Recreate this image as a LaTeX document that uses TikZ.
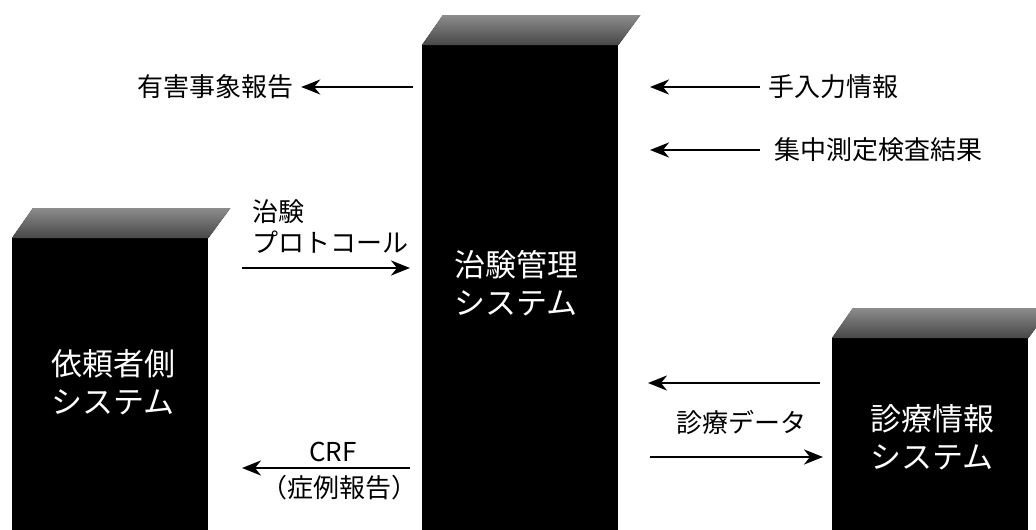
\documentclass[tikz,border=0pt]{standalone}
\usepackage{fontspec}
\setmainfont{Noto Sans CJK JP}
\usetikzlibrary{arrows.meta}
\begin{document}
\begin{tikzpicture}[x=1pt,y=-1pt,
  col/.style={fill=black,draw=none,inner sep=0pt,anchor=north west,minimum width=196pt},
  topface/.style={top color=black!45,bottom color=black!72,draw=none},
  lbl/.style={font=\fontsize{26}{31}\selectfont,inner sep=0pt},
  big/.style={font=\fontsize{31}{38}\selectfont,text=white,align=center,inner sep=0pt},
  arr/.style={line width=2.3pt,-{Stealth[length=19pt,width=15pt,inset=6pt]}}
]
\useasboundingbox (0,0) rectangle (1036,530);
\clip (0,0) rectangle (1036,530);

% columns
\node[col,minimum height=292pt] (req) at (12,238) {};
\node[col,minimum height=485pt] (ctms) at (422,45) {};
\node[col,minimum height=192pt] (his) at (832,338) {};
\foreach \c in {req,ctms,his}{
  \fill[topface] (\c.north west) -- (\c.north east)
    -- ([shift={(22,-30)}]\c.north east) -- ([shift={(21,-30)}]\c.north west) -- cycle;
}

% column texts
\node[big] (reqt) at (113,382) {依頼者側\\システム};
\node[big] (ctmst) at (516,283) {治験管理\\システム};
\node[big] (hist) at (932,437) {診療情報\\システム};

% labels
\node[lbl] (ae) at (215,87) {有害事象報告};
\node[lbl] (man) at (833,87) {手入力情報};
\node[lbl] (lab) at (878,150) {集中測定検査結果};
\node[lbl,align=left,anchor=west] (prot) at (252,227) {治験\\プロトコール};
\node[lbl] (crf) at (333,452) {CRF};
\node[lbl] (crf2) at (339,488) {（症例報告）};
\node[lbl] (med) at (741,422) {診療データ};

% arrow ends
\coordinate (aeS) at (413,87);
\coordinate (manT) at (650,87);
\coordinate (labT) at (650,150);
\coordinate (protS) at (242,268);
\coordinate (protT) at (410,268);
\coordinate (crfS) at (410,468);
\coordinate (crfT) at (242,468);
\coordinate (medS1) at (820,383);
\coordinate (medT1) at (648,383);
\coordinate (medS2) at (650,457);
\coordinate (medT2) at (823,457);

\draw[arr,shorten >=8pt] (aeS) -- (ae.east);
\draw[arr,shorten <=8pt] (man.west) -- (manT);
\draw[arr,shorten <=14pt] (lab.west) -- (labT);
\draw[arr] (protS) -- (protT);
\draw[arr] (crfS) -- (crfT);
\draw[arr] (medS1) -- (medT1);
\draw[arr] (medS2) -- (medT2);
\end{tikzpicture}
\end{document}
